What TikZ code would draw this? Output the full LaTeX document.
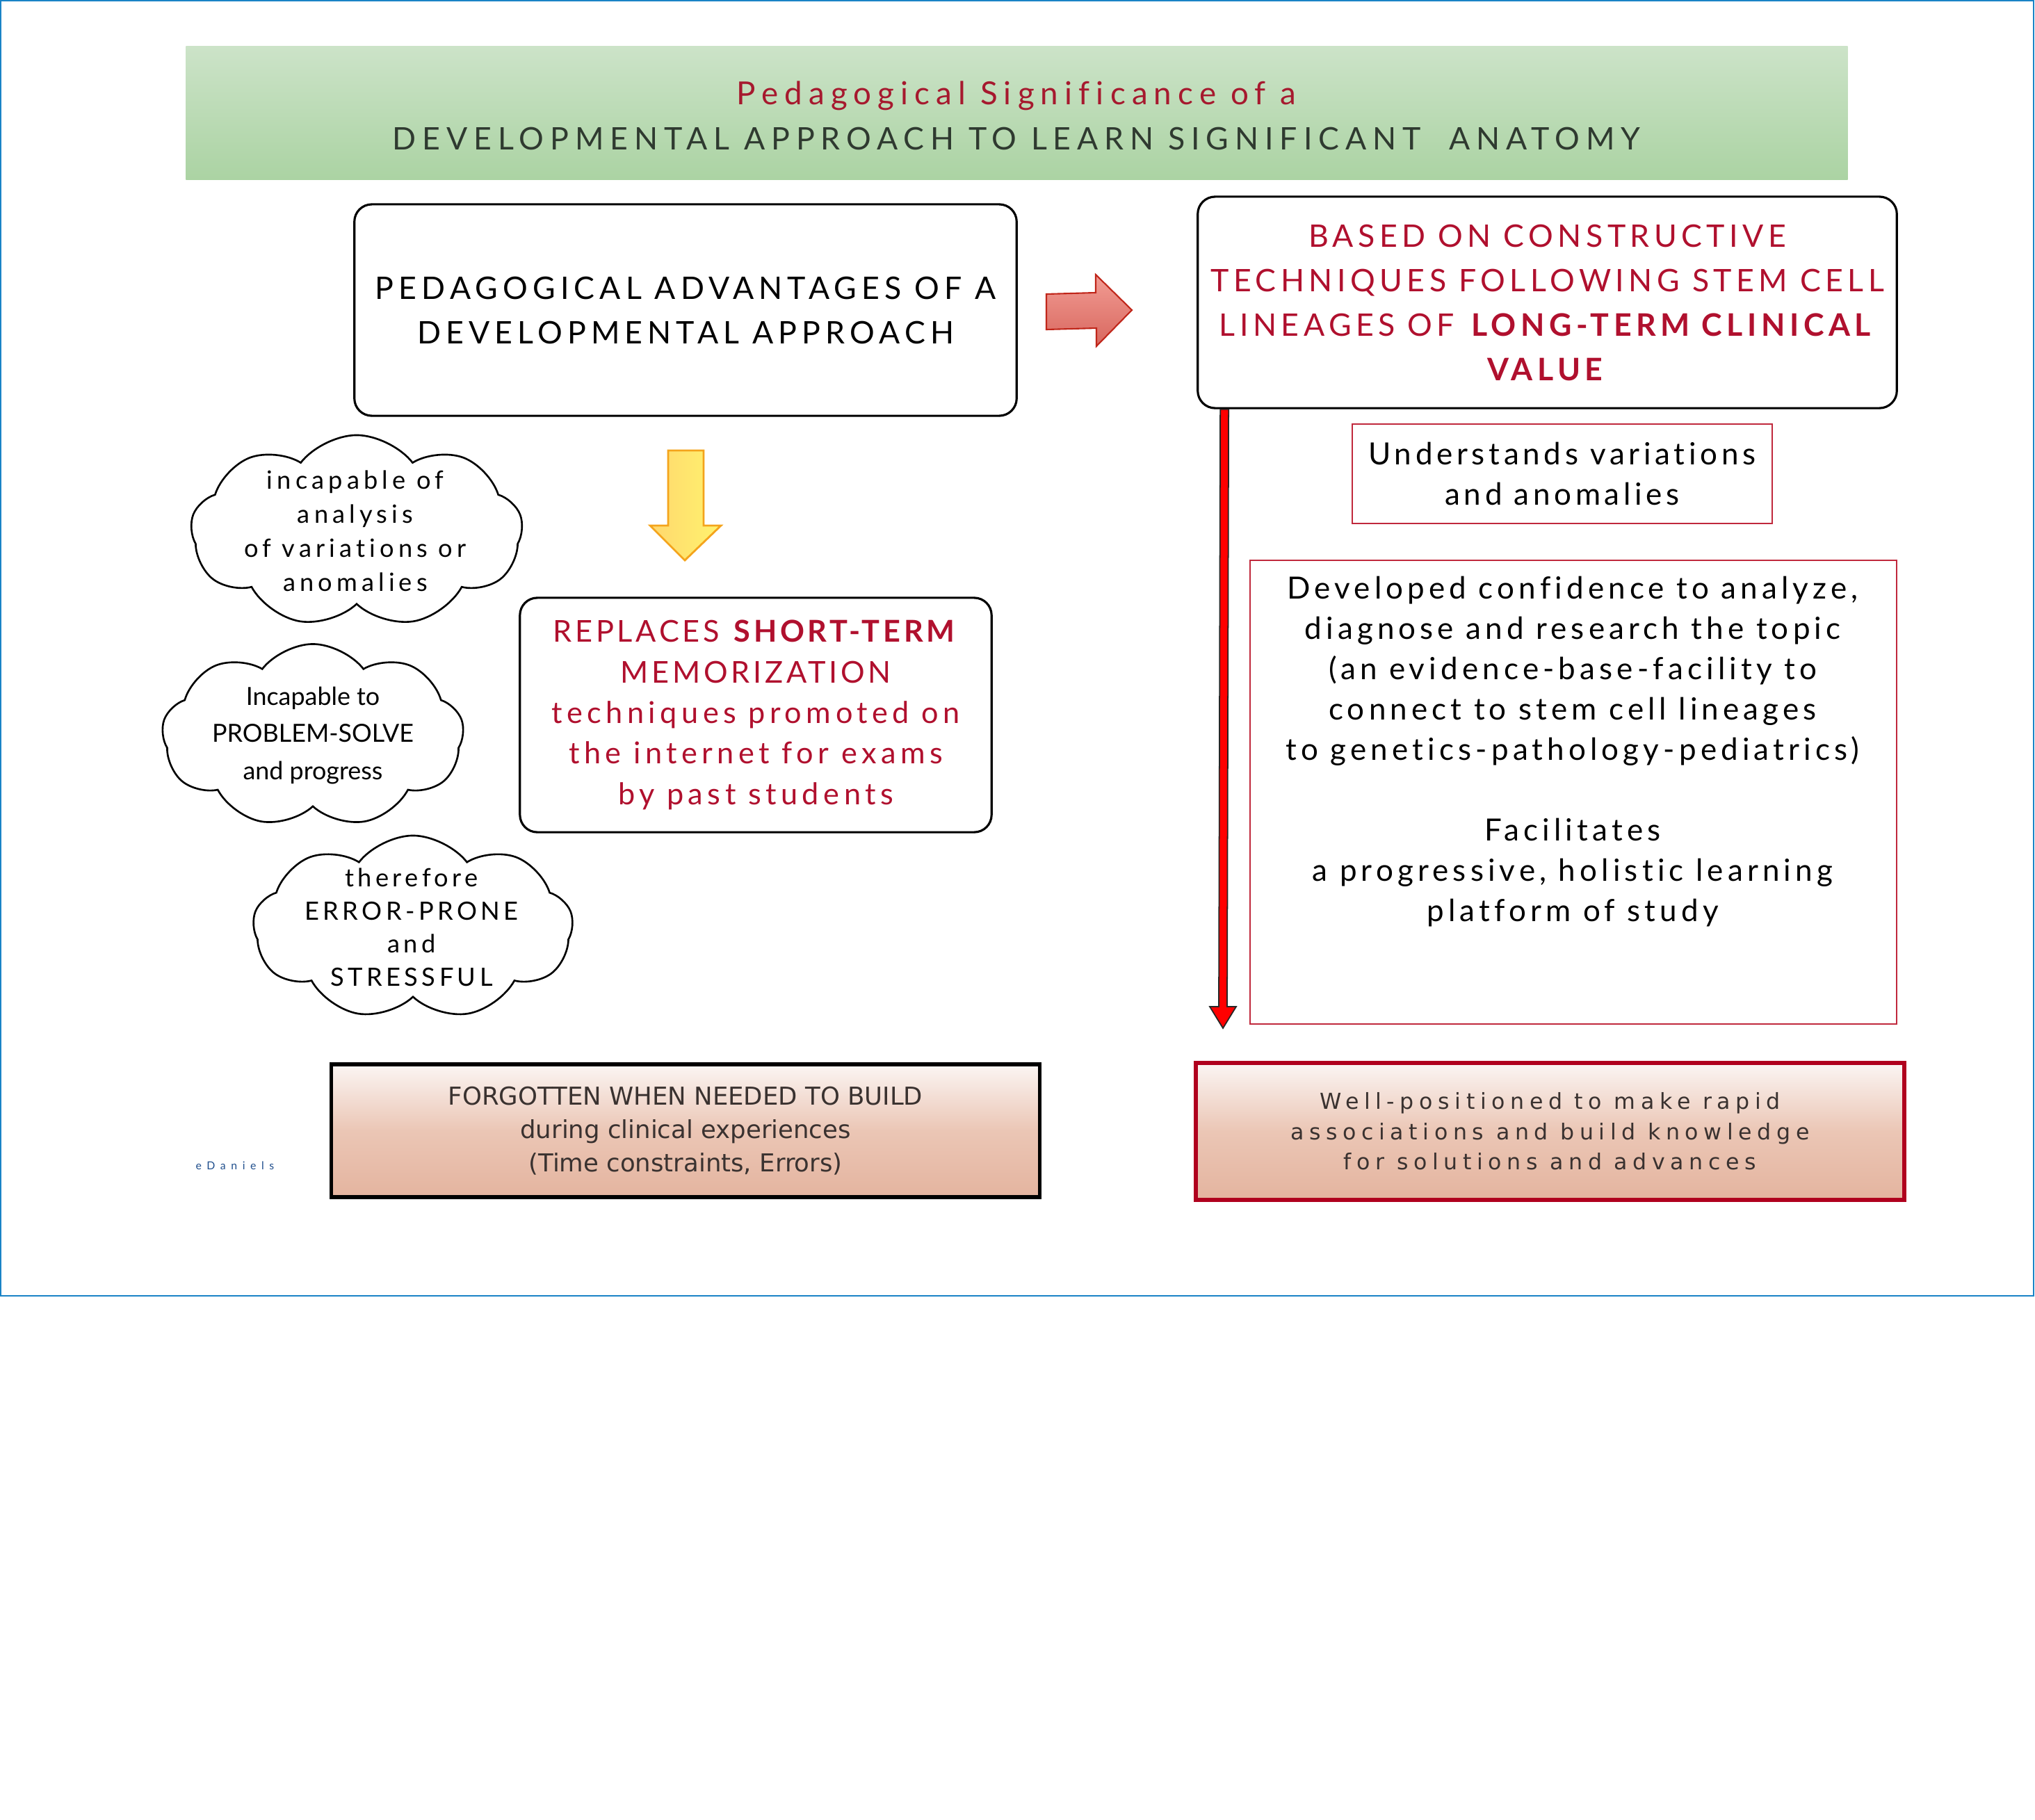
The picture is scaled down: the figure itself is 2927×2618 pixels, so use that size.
\documentclass[tikz,border=0pt]{standalone}
\usepackage{fontspec}
\setmainfont{Lato}[Ligatures=NoCommon]
\newfontfamily\avP{Lato}[LetterSpace=16,Ligatures=NoCommon]
\newfontfamily\avB{Lato}[LetterSpace=14.5,Ligatures=NoCommon]
\newfontfamily\avTa{Lato}[LetterSpace=20,Ligatures=NoCommon]
\newfontfamily\avT{Lato}[LetterSpace=20,Ligatures=NoCommon]
\newfontfamily\avU{Lato}[LetterSpace=13,Ligatures=NoCommon]
\newfontfamily\avD{Lato}[LetterSpace=14,Ligatures=NoCommon]
\newfontfamily\avRc{Lato}[LetterSpace=11,Ligatures=NoCommon]
\newfontfamily\avRl{Lato}[LetterSpace=15,Ligatures=NoCommon]
\newfontfamily\avCa{Lato}[LetterSpace=17,Ligatures=NoCommon]
\newfontfamily\avCc{Lato}[LetterSpace=15,Ligatures=NoCommon]
\newfontfamily\avS{Lato}[LetterSpace=48,Ligatures=NoCommon]
\newfontfamily\dvs{DejaVu Sans}
\newfontfamily\dvsW{DejaVu Sans}[LetterSpace=24,Ligatures=NoCommon]
\usetikzlibrary{shapes.symbols,calc}
\definecolor{tred}{HTML}{A6192E}
\definecolor{bred}{HTML}{B0102E}
\definecolor{tgray}{HTML}{2F3A30}
\definecolor{bantop}{HTML}{CCE3C8}
\definecolor{banbot}{HTML}{ABD3A3}
\definecolor{frameblue}{HTML}{1A83C6}
\definecolor{rborder}{HTML}{C0283C}
\definecolor{wred}{HTML}{B0001E}
\definecolor{gtop}{HTML}{FBF5F3}
\definecolor{gmid}{HTML}{EBC6B5}
\definecolor{gbot}{HTML}{E4B49F}
\definecolor{fgray}{HTML}{3A3230}
\definecolor{sigblue}{HTML}{1F4E8C}
\definecolor{arrRed}{HTML}{C0261A}
\definecolor{arrTop}{HTML}{F29C94}
\definecolor{arrBot}{HTML}{D8675E}
\definecolor{yBorder}{HTML}{F4A41C}
\definecolor{yLeft}{HTML}{FFD76E}
\definecolor{yRight}{HTML}{FFF36E}
\begin{document}
\begin{tikzpicture}[x=0.01cm,y=-0.01cm,
  txt/.style={align=center, inner sep=0pt},
  roundbox/.style={draw=black, line width=0.9pt, rounded corners=0.25cm, fill=white, inner sep=0pt, align=center},
  redbox/.style={draw=rborder, line width=0.6pt, inner sep=0pt, align=center},
  cloudbox/.style={cloud, draw=black, line width=0.75pt, cloud puffs=9, cloud puff arc=105, aspect=1.75, inner sep=0pt},
  gradbox/.style={top color=gtop, bottom color=gbot, middle color=gmid, inner sep=0pt, align=center, text=fgray}
]
\useasboundingbox (0,0) rectangle (2927,2618);
\draw[frameblue, line width=0.7pt] (1,1) rectangle (2925,1864);

% title banner
\node (banner) [rectangle, inner sep=0pt, minimum width=23.89cm, minimum height=1.91cm, top color=bantop, bottom color=banbot] at (1462.5,162.5) {};
\node (title) [txt, font=\fontsize{12.7}{18.5}\selectfont] at (1462,166)
  {{\avTa\fontsize{13}{18.5}\selectfont\color{tred}Pedagogical Significance of a}\\{\avT\color{tgray}DEVELOPMENTAL APPROACH TO LEARN SIGNIFICANT\ \ ANATOMY}};

% top boxes
\node (adv) [roundbox, minimum width=9.52cm, minimum height=3.04cm, font=\avP\fontsize{12.7}{18.2}\selectfont] at (986,446)
  {PEDAGOGICAL ADVANTAGES OF A\\DEVELOPMENTAL APPROACH};
\node (based) [roundbox, minimum width=10.05cm, minimum height=3.04cm, text=bred, font=\avB\fontsize{12.7}{18.2}\selectfont] at (2225.5,435)
  {BASED ON CONSTRUCTIVE\\TECHNIQUES FOLLOWING STEM CELL\\LINEAGES OF \textbf{LONG-TERM CLINICAL}\\\textbf{VALUE}};

% right block arrow
\draw[draw=arrRed, line width=0.6pt, top color=arrTop, bottom color=arrBot]
  (1505,423) -- (1576,421) -- (1576,395) -- (1628,446) -- (1577,498) -- (1577,472) -- (1505,474) -- cycle;

% yellow down arrow
\draw[draw=yBorder, line width=0.8pt, left color=yLeft, right color=yRight]
  (961,648) -- (1012,648) -- (1012,756) -- (1037,756) -- (985,806) -- (935,756) -- (961,756) -- cycle;

% right column
\node (under) [redbox, minimum width=6.04cm, minimum height=1.43cm, font=\avU\fontsize{12.5}{16.5}\selectfont] at (2247,681.5)
  {Understands variations\\and anomalies};
\node (bigbox) [redbox, minimum width=9.30cm, minimum height=6.67cm] at (2263,1139.5) {};
\node (bigtext) [txt, font=\avD\fontsize{12.5}{16.5}\selectfont] at (2262,1081)
  {Developed confidence to analyze,\\diagnose and research the topic\\(an evidence-base-facility to\\connect to stem cell lineages\\to genetics-pathology-pediatrics)\\[16.5pt]Facilitates\\a progressive, holistic learning\\platform of study};

% vertical red arrow
\coordinate (vtop) at ($(based.south west)+(40,0)$);
\coordinate (vend) at (1759,1479);
\draw[fill=red, draw=black!85, line width=0.5pt]
  ($(vtop)+(-6,0)$) -- ($(vend)+(-6,-31)$) -- ($(vend)+(-19,-31)$) -- (vend) -- ($(vend)+(19,-31)$) -- ($(vend)+(6,-31)$) -- ($(vtop)+(6,0)$) -- cycle;

% replaces box
\node (repl) [roundbox, minimum width=6.78cm, minimum height=3.37cm, text=bred, font=\avRl\fontsize{12.3}{16.6}\selectfont] at (1087,1028.5)
  {{\avRc REPLACES \textbf{SHORT-TERM}}\\{\avRc MEMORIZATION}\\techniques promoted on\\the internet for exams\\by past students};

% clouds
\node (c1) [cloudbox, minimum width=4.77cm, minimum height=2.76cm] at (513,764) {};
\node (c1t) [txt, font=\avCa\fontsize{10.3}{13.9}\selectfont] at (511,764)
  {incapable of\\analysis\\of variations or\\anomalies};
\node (c2) [cloudbox, minimum width=4.34cm, minimum height=2.63cm] at (450,1058) {};
\node (c2t) [txt, font=\fontsize{10.2}{15.2}\selectfont] at (450,1058)
  {Incapable to\\PROBLEM-SOLVE\\and progress};
\node (c3) [cloudbox, minimum width=4.60cm, minimum height=2.64cm] at (594,1334) {};
\node (c3t) [txt, font=\avCc\fontsize{10.3}{13.5}\selectfont] at (592,1334)
  {therefore\\ERROR-PRONE\\and\\STRESSFUL};

% bottom boxes
\node (forg) [gradbox, draw=black, line width=1.5pt, minimum width=10.18cm, minimum height=1.91cm, font=\dvs\fontsize{10.1}{13.7}\selectfont] at (986,1626.5)
  {FORGOTTEN WHEN NEEDED TO BUILD\\during clinical experiences\\(Time constraints, Errors)};
\node (well) [gradbox, draw=wred, line width=1.8pt, minimum width=10.19cm, minimum height=1.97cm, font=\dvsW\fontsize{9}{12.4}\selectfont] at (2229.5,1627.5)
  {Well-positioned to make rapid\\associations and build knowledge\\for solutions and advances};

\node (sig) [inner sep=0pt, text=sigblue, font=\avS\fontsize{4.5}{5}\selectfont] at (338,1677) {eDaniels};
\end{tikzpicture}
\end{document}
